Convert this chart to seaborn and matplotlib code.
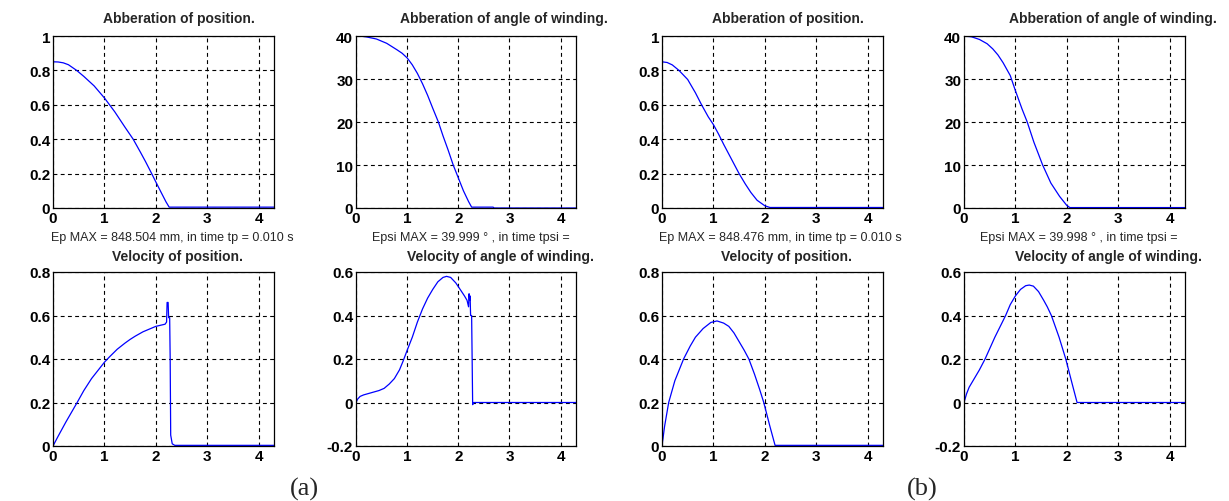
import numpy as np
import pandas as pd
import matplotlib
matplotlib.use("Agg")
import matplotlib.pyplot as plt
import seaborn as sns
from matplotlib.ticker import FuncFormatter, MultipleLocator

sns.set_style("white")
plt.rcParams['font.family'] = ['Liberation Sans', 'DejaVu Sans']
plt.rcParams['axes.unicode_minus'] = False

# ---------------- data ----------------
# (a) aberration of position
a_pos_t = [0, 0, 0.1, 0.2, 0.3, 0.46, 0.6, 0.8, 1.0, 1.1, 1.2, 1.3, 1.4, 1.56, 1.7, 1.8, 1.92, 2.0, 2.1, 2.2, 2.26, 4.3]
a_pos_v = [0, 0.85, 0.849, 0.844, 0.833, 0.8, 0.765, 0.71, 0.64, 0.6, 0.56, 0.515, 0.47, 0.4, 0.325, 0.27, 0.2, 0.152, 0.093, 0.035, 0.005, 0.005]
# (a) aberration of angle of winding
a_ang_t = [0, 0, 0.1, 0.2, 0.4, 0.6, 0.8, 0.9, 1.0, 1.1, 1.2, 1.3, 1.4, 1.5, 1.61, 1.7, 1.8, 1.9, 2.0, 2.1, 2.2, 2.26, 2.68, 2.7, 4.3]
a_ang_v = [0, 40, 39.95, 39.8, 39.3, 38.3, 36.8, 36.0, 34.9, 33.3, 31.3, 28.9, 26.2, 23.2, 20, 16.8, 13.5, 10, 7, 4, 1.5, 0.2, 0.2, 0, 0]
# (a) velocity of position
a_vpos_t = [0, 0.1, 0.25, 0.47, 0.6, 0.75, 0.9, 1.0, 1.1, 1.25, 1.4, 1.5, 1.6, 1.75, 1.9, 2.0, 2.18, 2.21, 2.22, 2.24, 2.25, 2.27, 2.28, 2.29, 2.32, 2.37, 4.3]
a_vpos_v = [0, 0.045, 0.11, 0.2, 0.255, 0.31, 0.355, 0.385, 0.41, 0.445, 0.473, 0.49, 0.505, 0.525, 0.54, 0.55, 0.56, 0.57, 0.66, 0.66, 0.59, 0.59, 0.4, 0.05, 0.01, 0.003, 0.003]
# (a) velocity of angle of winding
a_vang_t = [0, 0.03, 0.08, 0.15, 0.3, 0.45, 0.55, 0.65, 0.75, 0.85, 0.92, 1.0, 1.1, 1.2, 1.3, 1.4, 1.5, 1.6, 1.7, 1.77, 1.85, 1.95, 2.05, 2.12, 2.17, 2.2, 2.21, 2.22, 2.23, 2.24, 2.26, 2.27, 2.28, 2.3, 4.3]
a_vang_v = [0, 0.015, 0.028, 0.035, 0.045, 0.055, 0.065, 0.085, 0.11, 0.15, 0.19, 0.24, 0.3, 0.37, 0.43, 0.48, 0.52, 0.555, 0.575, 0.58, 0.575, 0.55, 0.515, 0.49, 0.47, 0.44, 0.5, 0.47, 0.49, 0.4, 0.4, 0.2, -0.01, 0, 0]
# (b) aberration of position
b_pos_t = [0, 0, 0.1, 0.2, 0.33, 0.5, 0.65, 0.77, 0.9, 1.0, 1.1, 1.2, 1.35, 1.5, 1.62, 1.73, 1.85, 2.0, 2.1, 4.3]
b_pos_v = [0, 0.85, 0.846, 0.832, 0.8, 0.747, 0.67, 0.6, 0.53, 0.485, 0.43, 0.37, 0.285, 0.2, 0.14, 0.09, 0.045, 0.013, 0.003, 0.003]
# (b) aberration of angle of winding
b_ang_t = [0, 0, 0.15, 0.3, 0.45, 0.56, 0.66, 0.76, 0.9, 1.0, 1.13, 1.23, 1.36, 1.45, 1.53, 1.69, 1.86, 2.0, 2.06, 4.3]
b_ang_v = [0, 40, 39.8, 39.2, 38.2, 37, 35.6, 33.8, 30.8, 27.3, 23, 20, 15.3, 12.5, 10, 5.8, 2.7, 0.6, 0.1, 0.1]
# (b) velocity of position
b_vpos_t = [0, 0.05, 0.13, 0.25, 0.42, 0.55, 0.65, 0.8, 0.95, 1.07, 1.2, 1.3, 1.4, 1.5, 1.6, 1.69, 1.8, 1.9, 1.98, 2.1, 2.2, 4.3]
b_vpos_v = [0, 0.09, 0.2, 0.3, 0.4, 0.46, 0.5, 0.54, 0.568, 0.575, 0.565, 0.55, 0.52, 0.48, 0.44, 0.4, 0.33, 0.26, 0.2, 0.09, 0.003, 0.003]
# (b) velocity of angle of winding
b_vang_t = [0, 0.05, 0.1, 0.2, 0.3, 0.41, 0.6, 0.81, 0.9, 1.0, 1.1, 1.2, 1.27, 1.35, 1.45, 1.55, 1.62, 1.7, 1.85, 1.98, 2.1, 2.2, 4.3]
b_vang_v = [0, 0.04, 0.07, 0.11, 0.15, 0.2, 0.3, 0.4, 0.45, 0.49, 0.52, 0.537, 0.54, 0.535, 0.51, 0.47, 0.44, 0.4, 0.3, 0.2, 0.09, 0.0, 0.0]

title_pos = "Abberation of position."
title_ang = "Abberation of angle of winding."
title_vpos = "Velocity of position."
title_vang = "Velocity of angle of winding."
label_a_pos = "Ep MAX = 848.504 mm, in time tp = 0.010 s"
label_a_ang = "Epsi MAX = 39.999 ° , in time tpsi ="
label_b_pos = "Ep MAX = 848.476 mm, in time tp = 0.010 s"
label_b_ang = "Epsi MAX = 39.998 ° , in time tpsi ="
panel_labels = ["(a)", "(b)"]

# ---------------- figure ----------------
W, H = 1229, 502
fig = plt.figure(figsize=(W / 100, H / 100), dpi=100)

col_left = [53, 356, 662, 964]
col_w = [221, 220, 221, 221]
row_top = [37, 273]
row_h = [172, 174]

def make_ax(c, r):
    l = col_left[c] / W
    b = 1 - (row_top[r] + row_h[r]) / H
    return fig.add_axes([l, b, col_w[c] / W, row_h[r] / H])

fmt = FuncFormatter(lambda v, p: "%g" % round(v, 6))

panels = [
    # col, row, t, v, ylim, ystep, title, title_x, xlabel, xlabel_x
    (0, 0, a_pos_t, a_pos_v, (0, 1), 0.2, title_pos, 0.57, label_a_pos, 0.538),
    (1, 0, a_ang_t, a_ang_v, (0, 40), 10, title_ang, 0.673, label_a_ang, 0.523),
    (0, 1, a_vpos_t, a_vpos_v, (0, 0.8), 0.2, title_vpos, 0.563, None, None),
    (1, 1, a_vang_t, a_vang_v, (-0.2, 0.6), 0.2, title_vang, 0.655, None, None),
    (2, 0, b_pos_t, b_pos_v, (0, 1), 0.2, title_pos, 0.57, label_b_pos, 0.534),
    (3, 0, b_ang_t, b_ang_v, (0, 40), 10, title_ang, 0.674, label_b_ang, 0.52),
    (2, 1, b_vpos_t, b_vpos_v, (0, 0.8), 0.2, title_vpos, 0.563, None, None),
    (3, 1, b_vang_t, b_vang_v, (-0.2, 0.6), 0.2, title_vang, 0.656, None, None),
]

for (c, r, t, v, ylim, ystep, title, tx, xl, xlx) in panels:
    ax = make_ax(c, r)
    df = pd.DataFrame({"t": t, "v": v})
    sns.lineplot(data=df, x="t", y="v", ax=ax, estimator=None, sort=False,
                 color="#0000ff", linewidth=0.9, zorder=3)
    ax.set_xlim(0, 4.3)
    ax.set_ylim(*ylim)
    ax.xaxis.set_major_locator(MultipleLocator(1))
    ax.yaxis.set_major_locator(MultipleLocator(ystep))
    ax.xaxis.set_major_formatter(fmt)
    ax.yaxis.set_major_formatter(fmt)
    ax.grid(True, color="black", linestyle=(0, (3.5, 3)), linewidth=0.8)
    ax.tick_params(direction="in", length=3, width=0.8, pad=2,
                   labelsize=11, colors="black")
    for lab in ax.get_xticklabels() + ax.get_yticklabels():
        lab.set_fontweight("bold")
    for s in ax.spines.values():
        s.set_color("black")
        s.set_linewidth(0.9)
        s.set_zorder(4)
    ax.set_ylabel("")
    if xl:
        ax.set_xlabel(xl, fontsize=9, va="center")
        ax.xaxis.set_label_coords(xlx, -29 / row_h[r])
    else:
        ax.set_xlabel("")
    pad = 14 if r == 0 else 12
    ax.text(tx, 1 + pad / row_h[r], title, transform=ax.transAxes,
            ha="center", va="baseline", fontsize=10, fontweight="bold")

fig.text(304 / W, 1 - 489 / H, panel_labels[0], ha="center", va="center",
         fontsize=19, family=["Liberation Serif", "DejaVu Serif"])
fig.text(922 / W, 1 - 489 / H, panel_labels[1], ha="center", va="center",
         fontsize=19, family=["Liberation Serif", "DejaVu Serif"])

fig.savefig("out.png", dpi=100)
